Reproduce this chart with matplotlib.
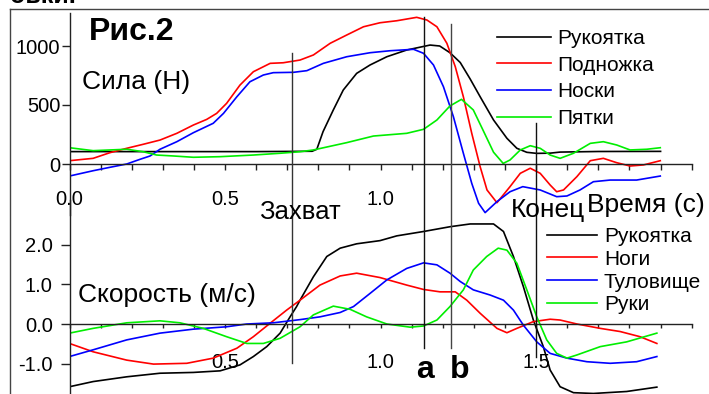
import matplotlib
matplotlib.use("Agg")
import matplotlib.pyplot as plt
from matplotlib.lines import Line2D
from matplotlib.ticker import FixedLocator, FixedFormatter
from matplotlib.transforms import blended_transform_factory

plt.rcParams['font.family'] = ['Liberation Sans', 'DejaVu Sans']

# ---------------- data: forces (N) ----------------
t_grip = [0, 0.3, 0.6, 0.78, 0.795, 0.815, 0.848, 0.88, 0.923, 0.966, 1.02, 1.084, 1.159, 1.19,
          1.223, 1.256, 1.288, 1.32, 1.363, 1.406, 1.438, 1.47, 1.502, 1.545, 1.577, 1.7, 1.9]
f_grip = [105, 105, 105, 108, 125, 274, 458, 627, 768, 839, 909, 966, 1008, 1000,
          943, 860, 720, 570, 373, 218, 133, 99, 90, 92, 101, 106, 107]

t_foot = [0, 0.076, 0.13, 0.184, 0.237, 0.291, 0.345, 0.398, 0.441, 0.473, 0.505, 0.548, 0.591,
          0.645, 0.687, 0.741, 0.784, 0.838, 0.891, 0.945, 0.998, 1.052, 1.116, 1.149, 1.181,
          1.213, 1.24, 1.266, 1.293, 1.32, 1.342, 1.374, 1.416, 1.449, 1.481, 1.513, 1.545,
          1.566, 1.588, 1.631, 1.674, 1.716, 1.759, 1.802, 1.845, 1.899]
f_foot = [28, 48, 96, 133, 167, 203, 260, 330, 378, 429, 514, 669, 782,
          853, 858, 881, 924, 1023, 1093, 1163, 1197, 1214, 1243, 1220, 1163,
          1023, 825, 570, 260, -23, -220, -328, -192, -79, -36, -79, -178,
          -235, -220, -107, 28, 48, 11, -17, -8, 28]

t_toes = [0, 0.076, 0.13, 0.184, 0.227, 0.259, 0.291, 0.345, 0.398, 0.462, 0.495, 0.538, 0.58,
          0.623, 0.655, 0.72, 0.763, 0.816, 0.891, 0.966, 1.031, 1.106, 1.138, 1.17, 1.202,
          1.234, 1.266, 1.293, 1.315, 1.336, 1.374, 1.416, 1.457, 1.513, 1.566, 1.599, 1.641,
          1.684, 1.738, 1.823, 1.899]
f_toes = [-102, -57, -28, 0, 40, 68, 125, 189, 265, 345, 429, 570, 697,
          754, 774, 777, 791, 853, 909, 943, 960, 972, 938, 839, 655,
          401, 91, -164, -333, -412, -319, -235, -192, -220, -277, -271, -220,
          -150, -136, -136, -102]

t_heel = [0, 0.076, 0.184, 0.237, 0.28, 0.334, 0.398, 0.484, 0.591, 0.677, 0.741, 0.784, 0.891,
          0.977, 1.084, 1.138, 1.181, 1.223, 1.26, 1.298, 1.329, 1.363, 1.394, 1.416, 1.449,
          1.481, 1.513, 1.545, 1.577, 1.62, 1.674, 1.716, 1.759, 1.802, 1.856, 1.899]
f_heel = [138, 113, 125, 104, 76, 68, 57, 62, 76, 91, 104, 119, 181,
          237, 260, 294, 373, 492, 548, 458, 288, 100, 5, 34, 119,
          155, 133, 76, 48, 91, 175, 189, 161, 119, 125, 138]

# ---------------- data: velocities (m/s) ----------------
t_vgrip = [0, 0.076, 0.184, 0.291, 0.398, 0.484, 0.548, 0.591, 0.634, 0.677, 0.709, 0.73, 0.741,
           0.784, 0.827, 0.87, 0.923, 0.998, 1.052, 1.138, 1.223, 1.288, 1.363, 1.395, 1.427,
           1.459, 1.491, 1.523, 1.545, 1.577, 1.62, 1.684, 1.791, 1.888]
v_grip = [-1.58, -1.45, -1.33, -1.24, -1.22, -1.18, -1.03, -0.82, -0.57, -0.23, 0.18, 0.44, 0.60,
          1.19, 1.70, 1.91, 2.02, 2.10, 2.22, 2.33, 2.45, 2.52, 2.52, 2.33, 1.70,
          0.94, 0.10, -0.57, -1.16, -1.58, -1.73, -1.75, -1.70, -1.59]

t_legs = [0, 0.076, 0.184, 0.27, 0.377, 0.462, 0.538, 0.591, 0.645, 0.698, 0.741, 0.805, 0.87,
          0.923, 0.998, 1.084, 1.138, 1.191, 1.24, 1.277, 1.32, 1.374, 1.406, 1.438, 1.491,
          1.545, 1.577, 1.631, 1.706, 1.77, 1.834, 1.888]
v_legs = [-0.49, -0.70, -0.91, -1.01, -0.99, -0.86, -0.61, -0.32, 0.02, 0.35, 0.60, 0.98, 1.21,
          1.28, 1.17, 0.98, 0.87, 0.81, 0.81, 0.60, 0.27, -0.11, -0.22, -0.11, 0.06,
          0.12, 0.10, 0.0, -0.11, -0.19, -0.32, -0.49]

t_trunk = [0, 0.076, 0.184, 0.291, 0.398, 0.505, 0.57, 0.655, 0.741, 0.805, 0.87, 0.913, 0.966,
           1.02, 1.084, 1.138, 1.181, 1.223, 1.256, 1.298, 1.352, 1.395, 1.427, 1.459, 1.502,
           1.545, 1.599, 1.663, 1.738, 1.823, 1.888]
v_trunk = [-0.82, -0.65, -0.40, -0.23, -0.13, -0.07, 0.0, 0.03, 0.11, 0.18, 0.29, 0.44, 0.77,
           1.11, 1.40, 1.54, 1.49, 1.28, 1.07, 0.86, 0.73, 0.60, 0.35, -0.03, -0.45,
           -0.74, -0.86, -0.95, -0.99, -0.95, -0.82]

t_arms = [0, 0.076, 0.184, 0.291, 0.355, 0.43, 0.505, 0.57, 0.623, 0.677, 0.741, 0.784, 0.848,
          0.902, 0.955, 1.02, 1.095, 1.138, 1.181, 1.223, 1.266, 1.298, 1.341, 1.378, 1.406,
          1.438, 1.47, 1.502, 1.534, 1.566, 1.599, 1.631, 1.706, 1.791, 1.888]
v_arms = [-0.23, -0.11, 0.03, 0.08, 0.03, -0.11, -0.32, -0.49, -0.49, -0.36, -0.07, 0.23, 0.45,
          0.37, 0.18, 0.0, -0.08, -0.05, 0.10, 0.44, 0.86, 1.36, 1.70, 1.91, 1.86,
          1.53, 0.86, 0.18, -0.40, -0.74, -0.86, -0.78, -0.57, -0.45, -0.23]

force_labels = ['Рукоятка', 'Подножка', 'Носки', 'Пятки']
vel_labels = ['Рукоятка', 'Ноги', 'Туловище', 'Руки']
series_colors = ['#000000', '#ff0000', '#0000ff', '#00ee00']

t_events = [0.714, 1.14, 1.226, 1.5]

top_xticks = [round(0.1 * i, 1) for i in range(21)]
top_xlabels = ['0.0', '0.5', '1.0']
bot_xlabels = ['0.5', '1.0', '1.5']
top_yticks = [0, 500, 1000]
bot_yticks = [-1.0, 0.0, 1.0, 2.0]

# ---------------- layout helpers ----------------
W, H = 709, 394
fig = plt.figure(figsize=(W / 100, H / 100), dpi=100)
fig.patch.set_facecolor('white')

def fx(px):
    return px / W

def fy(py):
    return 1 - py / H

X0, X1 = 69.5, 691.7
axc = '#222222'

# top axes: zero at y=164px, 118 px per 1000 N
ax1 = fig.add_axes([fx(X0), fy(215), fx(X1) - fx(X0), fy(13) - fy(215)])
ax1.set_xlim(0, 2.0)
ax1.set_ylim((164 - 215) / 0.118, (164 - 13) / 0.118)
# bottom axes: zero at y=324px, 39.7 px per 1 m/s
ax2 = fig.add_axes([fx(X0), fy(394), fx(X1) - fx(X0), fy(200) - fy(394)])
ax2.set_xlim(0, 2.0)
ax2.set_ylim((324 - 394) / 39.7, (324 - 200) / 39.7)

for ax in (ax1, ax2):
    ax.set_facecolor('none')
    ax.spines['top'].set_visible(False)
    ax.spines['right'].set_visible(False)
    ax.spines['bottom'].set_position(('data', 0))
    ax.spines['bottom'].set_bounds(0, 2.0)
    for s in ('left', 'bottom'):
        ax.spines[s].set_color(axc)
        ax.spines[s].set_linewidth(1.0)
    ax.xaxis.set_major_locator(FixedLocator(top_xticks))

def fmt_labels(shown):
    return [f'{v:.1f}' if f'{v:.1f}' in shown else '' for v in top_xticks]

ax1.xaxis.set_major_formatter(FixedFormatter(fmt_labels(top_xlabels)))
ax2.xaxis.set_major_formatter(FixedFormatter(fmt_labels(bot_xlabels)))
ax1.tick_params(axis='x', direction='out', length=4.5, width=1, color=axc, pad=14, labelsize=14.5)
ax2.tick_params(axis='x', direction='out', length=3, width=1, color=axc, pad=18, labelsize=14.5)

ax1.set_yticks(top_yticks)
ax1.set_yticklabels([str(v) for v in top_yticks])
ax2.set_yticks(bot_yticks)
ax2.set_yticklabels([f'{v:.1f}' for v in bot_yticks])
ax1.tick_params(axis='y', direction='out', length=6, width=1, color=axc, pad=0.5, labelsize=14.5)
ax2.tick_params(axis='y', direction='out', length=6.5, width=1, color=axc, pad=5.5, labelsize=14.5)

lw = 1.2
force_data = [(t_grip, f_grip), (t_foot, f_foot), (t_toes, f_toes), (t_heel, f_heel)]
vel_data = [(t_vgrip, v_grip), (t_legs, v_legs), (t_trunk, v_trunk), (t_arms, v_arms)]
h1 = []
for (tt, vv), c, lab in zip(force_data, series_colors, force_labels):
    h1 += ax1.plot(tt, vv, color=c, lw=lw, label=lab)
h2 = []
for (tt, vv), c, lab in zip(vel_data, series_colors, vel_labels):
    h2 += ax2.plot(tt, vv, color=c, lw=lw, label=lab)

# event lines spanning both panels
tr = blended_transform_factory(ax1.transData, fig.transFigure)
event_spans = [(53, 363), (17, 348), (24, 348), (123, 357)]
event_colors = ['#333333', '#111111', '#444444', '#111111']
for te, (ya, yb), ec in zip(t_events, event_spans, event_colors):
    fig.add_artist(Line2D([te, te], [fy(ya), fy(yb)], transform=tr, color=ec, lw=1.0))

# legends
leg1 = ax1.legend(handles=h1, loc='upper left', bbox_to_anchor=(fx(497), fy(29)),
                  bbox_transform=fig.transFigure, frameon=False, fontsize=15,
                  handlelength=2.6, handletextpad=0.3, labelspacing=0.37,
                  borderpad=0, borderaxespad=0)
leg2 = ax2.legend(handles=h2, loc='upper left', bbox_to_anchor=(fx(547), fy(227)),
                  bbox_transform=fig.transFigure, frameon=False, fontsize=15,
                  handlelength=2.4, handletextpad=0.33, labelspacing=0.18,
                  borderpad=0, borderaxespad=0)

# texts
def ftext(px, py, s, **kw):
    fig.text(fx(px), fy(py), s, **kw)

ftext(10, 3, 'овки.', fontsize=18, fontweight='bold', va='baseline', ha='left')
ftext(89, 32, 'Рис.2', fontsize=23, fontweight='bold', va='center', ha='left')
ftext(82, 82, 'Сила (Н)', fontsize=19, va='center', ha='left')
ftext(259, 212, 'Захват', fontsize=18.5, va='center', ha='left')
ftext(511, 210, 'Конец', fontsize=19, va='center', ha='left')
ftext(587, 205, 'Время (с)', fontsize=19, va='center', ha='left')
ftext(78, 295, 'Скорость (м/с)', fontsize=19, va='center', ha='left')
ftext(425, 378, 'a', fontsize=23, fontweight='bold', va='baseline', ha='center')
ftext(460, 378, 'b', fontsize=23, fontweight='bold', va='baseline', ha='center')

# outer frame
fig.add_artist(Line2D([fx(10), fx(10)], [fy(9), fy(394)], transform=fig.transFigure, color='#444444', lw=1.0))
fig.add_artist(Line2D([fx(10), fx(709)], [fy(9), fy(9)], transform=fig.transFigure, color='#444444', lw=1.0))

fig.savefig('out.png', dpi=100)
